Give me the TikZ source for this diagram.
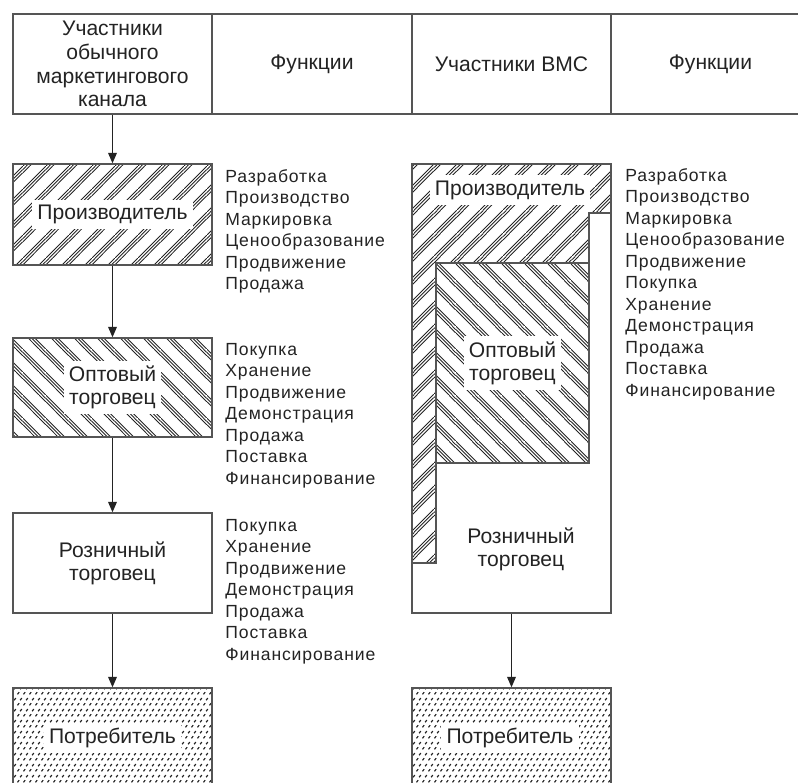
\documentclass[tikz,border=0pt]{standalone}
\usepackage{fontspec}
\setmainfont{Liberation Sans}
\usetikzlibrary{patterns,arrows.meta}

\definecolor{boxline}{RGB}{85,85,85}
\definecolor{ink}{RGB}{35,35,35}

% groups of three rising lines
\pgfdeclarepatternformonly{triple ne}{\pgfpointorigin}{\pgfpoint{13pt}{13pt}}{\pgfpoint{13pt}{13pt}}{%
  \pgfsetlinewidth{0.5pt}%
  \pgfpathmoveto{\pgfpoint{0pt}{0pt}}\pgfpathlineto{\pgfpoint{13pt}{13pt}}%
  \pgfpathmoveto{\pgfpoint{1.9pt}{0pt}}\pgfpathlineto{\pgfpoint{13pt}{11.1pt}}%
  \pgfpathmoveto{\pgfpoint{0pt}{11.1pt}}\pgfpathlineto{\pgfpoint{1.9pt}{13pt}}%
  \pgfpathmoveto{\pgfpoint{3.8pt}{0pt}}\pgfpathlineto{\pgfpoint{13pt}{9.2pt}}%
  \pgfpathmoveto{\pgfpoint{0pt}{9.2pt}}\pgfpathlineto{\pgfpoint{3.8pt}{13pt}}%
  \pgfusepath{stroke}}

% groups of three falling lines
\pgfdeclarepatternformonly{triple nw}{\pgfpointorigin}{\pgfpoint{13pt}{13pt}}{\pgfpoint{13pt}{13pt}}{%
  \pgfsetlinewidth{0.5pt}%
  \pgfpathmoveto{\pgfpoint{0pt}{13pt}}\pgfpathlineto{\pgfpoint{13pt}{0pt}}%
  \pgfpathmoveto{\pgfpoint{0pt}{11.1pt}}\pgfpathlineto{\pgfpoint{11.1pt}{0pt}}%
  \pgfpathmoveto{\pgfpoint{11.1pt}{13pt}}\pgfpathlineto{\pgfpoint{13pt}{11.1pt}}%
  \pgfpathmoveto{\pgfpoint{0pt}{9.2pt}}\pgfpathlineto{\pgfpoint{9.2pt}{0pt}}%
  \pgfpathmoveto{\pgfpoint{9.2pt}{13pt}}\pgfpathlineto{\pgfpoint{13pt}{9.2pt}}%
  \pgfusepath{stroke}}

% small staggered dashes for the consumer
\pgfdeclarepatternformonly{speckle}{\pgfpointorigin}{\pgfpoint{3.2pt}{6pt}}{\pgfpoint{3.2pt}{6pt}}{%
  \pgfsetlinewidth{0.7pt}%
  \pgfpathmoveto{\pgfpoint{0.3pt}{0.4pt}}\pgfpathlineto{\pgfpoint{1.3pt}{1.7pt}}%
  \pgfpathmoveto{\pgfpoint{1.9pt}{3.4pt}}\pgfpathlineto{\pgfpoint{2.9pt}{4.7pt}}%
  \pgfusepath{stroke}}

\tikzset{
  box/.style={draw=boxline, line width=0.8pt, fill=white, minimum width=3.98cm, inner sep=0pt},
  head/.style={box, minimum height=2cm, align=center, text=ink, font=\fontsize{12}{13.6}\selectfont},
  lbl/.style={fill=white, inner sep=3pt, align=center, text=ink, font=\fontsize{12}{13.2}\selectfont},
  func/.style={anchor=west, inner sep=0pt, text=ink, text height=1.6ex, text depth=0.3ex,
    font=\fontsize{10}{12}\selectfont\addfontfeatures{LetterSpace=5}},
  link/.style={draw=ink, line width=0.7pt, -{Triangle[length=6pt,width=5pt]}}
}

\begin{document}
\begin{tikzpicture}[x=0.02cm, y=-0.02cm]
    \clip (0,0) rectangle (798,783);

    % Header
    \node[head] (hdr1) at (112.5,64) {Участники\\обычного\\маркетингового\\канала};
    \node[head, minimum width=4cm] (hdr2) at (312,64) {Функции};
    \node[head] (hdr3) at (511.5,64) {Участники ВМС};
    \node[head] (hdr4) at (710.5,64) {Функции};

    % Usual channel
    \node[box, minimum height=2.02cm, pattern=triple ne, pattern color=ink] (prod1) at (112.5,214.5) {};
    \node[lbl] (prod1l) at (prod1.center) {Производитель};
    \node[box, minimum height=1.98cm, pattern=triple nw, pattern color=ink] (opt1) at (112.5,387.5) {};
    \node[lbl] (opt1l) at (opt1.center) {Оптовый\\торговец};
    \node[box, minimum height=2cm] (rozn1) at (112.5,563) {};
    \node[lbl] (rozn1l) at (rozn1.center) {Розничный\\торговец};
    \node[box, minimum height=2.2cm, pattern=speckle, pattern color=ink] (potr1) at (112.5,743) {};
    \node[lbl] (potr1l) at (112.5,738) {Потребитель};

    \draw[link] (hdr1.south) -- (prod1.north);
    \draw[link] (prod1.south) -- (opt1.north);
    \draw[link] (opt1.south) -- (rozn1.north);
    \draw[link] (rozn1.south) -- (potr1.north);

    % Functions, usual channel
    \foreach \t [count=\i] in {Разработка,Производство,Маркировка,Ценообразование,Продвижение,Продажа}
        \node[func] (fp\i) at (225,176+21.5*\i-21.5) {\t};
    \foreach \t [count=\i] in {Покупка,Хранение,Продвижение,Демонстрация,Продажа,Поставка,Финансирование}
        \node[func] (fo\i) at (225,349+21.5*\i-21.5) {\t};
    \foreach \t [count=\i] in {Покупка,Хранение,Продвижение,Демонстрация,Продажа,Поставка,Финансирование}
        \node[func] (fr\i) at (225,525+21.5*\i-21.5) {\t};

    % VMS channel
    \node[box, minimum height=8.98cm] (rozn2) at (511.5,388.5) {};
    \draw[draw=boxline, line width=0.8pt, pattern=triple ne, pattern color=ink]
        (412,164) -- (611,164) -- (611,213) -- (589,213) -- (589,263) -- (436,263)
        -- (436,563) -- (412,563) -- cycle;
    \node[box, minimum width=3.06cm, minimum height=4cm, pattern=triple nw, pattern color=ink] (opt2) at (512.5,363) {};
    \node[lbl] (prod2l) at (510,190) {Производитель};
    \node[lbl] (opt2l) at (opt2.center) {Оптовый\\торговец};
    \node[lbl, fill=none] (rozn2l) at (521,549) {Розничный\\торговец};
    \node[box, minimum height=2.2cm, pattern=speckle, pattern color=ink] (potr2) at (511.5,743) {};
    \node[lbl] (potr2l) at (510,738) {Потребитель};

    \draw[link] (rozn2.south) -- (potr2.north);

    % Functions, VMS
    \foreach \t [count=\i] in {Разработка,Производство,Маркировка,Ценообразование,Продвижение,Покупка,Хранение,Демонстрация,Продажа,Поставка,Финансирование}
        \node[func] (fv\i) at (625,175+21.5*\i-21.5) {\t};
\end{tikzpicture}
\end{document}
